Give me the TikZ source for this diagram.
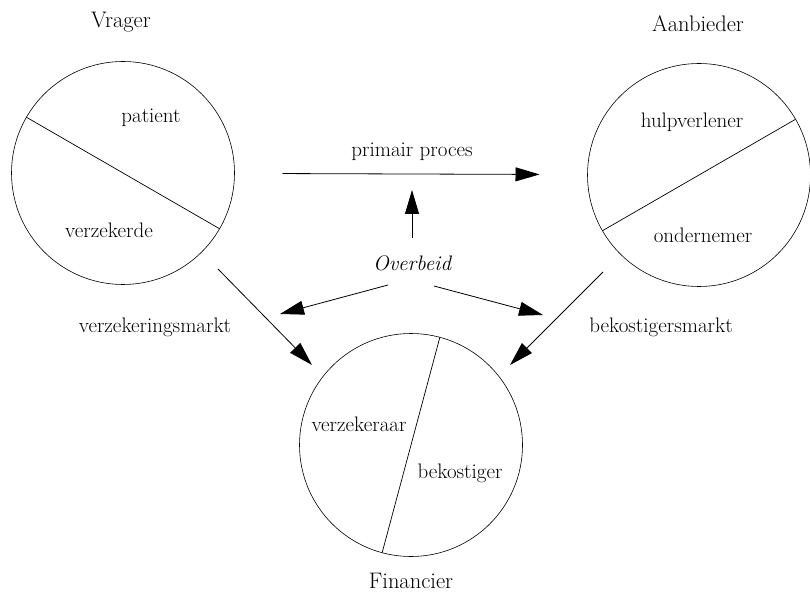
\documentclass[tikz,border=0pt]{standalone}
\usetikzlibrary{arrows.meta,calc}
\begin{document}
\begin{tikzpicture}[x=1pt,y=-1pt,
  lbl/.style={font=\fontsize{21}{25}\selectfont, inner sep=0pt},
  ttl/.style={font=\fontsize{22.5}{27}\selectfont, inner sep=0pt},
  role/.style={circle, draw, line width=0.6pt, minimum size=223pt, inner sep=0pt, outer sep=0pt},
  divider/.style={line width=0.7pt},
  arr/.style={line width=0.8pt, -{Triangle[length=24pt,width=14pt]}}
]
\useasboundingbox (0,0) rectangle (810,593);

% titles
\node[ttl] (tv) at (121,22) {Vrager};
\node[ttl] (ta) at (698,24) {Aanbieder};
\node[ttl] (tf) at (411,581) {Financier};

% circles
\node[role] (vr) at (123,173) {};
\node[role] (an) at (699,175) {};
\node[role] (fin) at (411,445) {};

% dividers
\draw[divider] ($(vr)+(210:111.5)$) -- ($(vr)+(30:111.5)$);
\draw[divider] ($(an)+(150:111.5)$) -- ($(an)+(-30:111.5)$);
\draw[divider] ($(fin)+(-75:111.5)$) -- ($(fin)+(105:111.5)$);

% circle labels
\node[lbl] (pat) at (151,118) {patient};
\node[lbl] (verz) at (109,230) {verzekerde};
\node[lbl] (hulp) at (692,122) {hulpverlener};
\node[lbl] (ond) at (703,235) {ondernemer};
\node[lbl] (vzr) at (359,424) {verzekeraar};
\node[lbl] (bek) at (460,473) {bekostiger};

% middle
\node[lbl] (pp) at (412,152) {primair proces};
\node[lbl, font=\fontsize{21}{25}\selectfont\itshape] (ob) at (412,263) {Overbeid};
\node[lbl] (vm) at (155,327) {verzekeringsmarkt};
\node[lbl] (bm) at (661,327) {bekostigersmarkt};

% arrow end coordinates
\coordinate (obu1) at (412,238);
\coordinate (obu2) at (412,190);
\coordinate (obl1) at (388,285);
\coordinate (obl2) at (280,314);
\coordinate (obr1) at (434,286);
\coordinate (obr2) at (543,315);
\coordinate (d1s) at (218,269);
\coordinate (d1e) at (312,365);
\coordinate (d2s) at (603,272);
\coordinate (d2e) at (510,365);

\draw[arr, shorten <=48pt, shorten >=48pt] (vr) -- (an);
\draw[arr] (obu1) -- (obu2);
\draw[arr] (obl1) -- (obl2);
\draw[arr] (obr1) -- (obr2);
\draw[arr] (d1s) -- (d1e);
\draw[arr] (d2s) -- (d2e);
\end{tikzpicture}
\end{document}
